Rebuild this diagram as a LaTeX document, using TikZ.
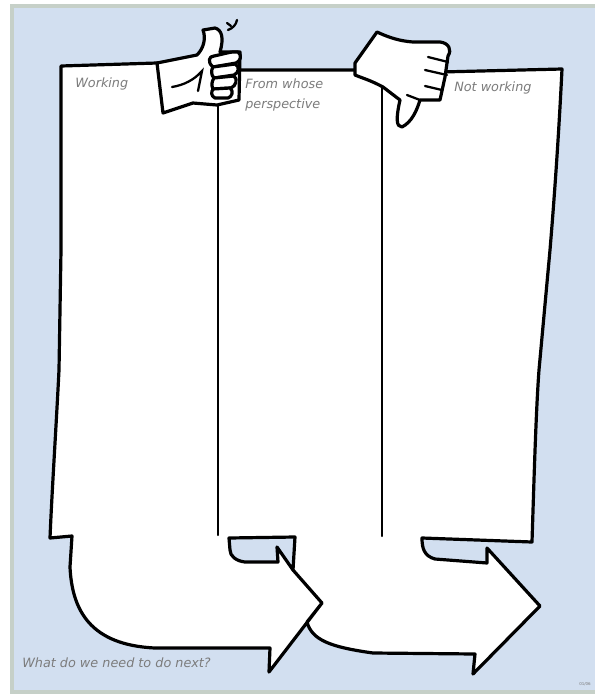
\documentclass[tikz,border=0pt]{standalone}
\usepackage{fontspec}
\setmainfont{DejaVu Sans}
\definecolor{sheetblue}{HTML}{D2DFF0}
\definecolor{framegray}{HTML}{C6D0C8}
\definecolor{notegray}{HTML}{7C7C7C}
\tikzset{
  ink/.style={line width=2.4pt, line join=round, line cap=round},
  inkthin/.style={line width=1.7pt, line cap=round},
  note/.style={text=notegray, font=\itshape\fontsize{9.6}{11}\selectfont, inner sep=0pt, anchor=west},
}
\begin{document}
\begin{tikzpicture}[x=0.75pt, y=-0.75pt]
\useasboundingbox (0,0) rectangle (595,694);
\draw[framegray, line width=3pt, fill=sheetblue] (12,6)--(600,6)--(600,692)--(12,692)--cycle;

% the sheet with both arrows
\draw[ink, fill=white] (322,603)--(307,622) .. controls (312,640) and (330,647) .. (373,653)
  --(475,654)--(473,674)--(540,606)--(487,548)--(487,563)--(435,559)
  .. controls (424,556) and (422,548) .. (422,538)--(532,542)
  .. controls (534,480) and (536,410) .. (539,370)--(550,250)
  .. controls (555,190) and (559,130) .. (562,69)
  --(440,72)--(355,70)--(240,70)--(157,63)--(61,66)
  .. controls (61,130) and (61,200) .. (61,250)--(59,370)
  .. controls (56,430) and (52,490) .. (50,538)--(72,536)--(70,567)
  .. controls (72,610) and (90,645) .. (155,648)
  --(270,648)--(269,672)--cycle;

% notch between the columns and the first arrow
\draw[ink, fill=sheetblue] (229,538)--(295,537)--(293,570)--(277,547)--(278,562)--(245,562)
  .. controls (236,561) and (230,556) .. (230,550)--cycle;
\draw[ink] (293,570)--(322,603);

% columns
\draw[inkthin] (218,100)--(218,535);
\draw[inkthin] (382,70)--(382,536);

% thumb up
\draw[ink, fill=white] (157,63)--(197,55) .. controls (204,48) and (206,38) .. (203,30)
  --(215,28) .. controls (222,30) and (224,38) .. (220,52)--(240,52)
  --(239,100)--(217,105)--(193,103)--(163,113)--cycle;
\draw[ink, fill=white] (213,67) .. controls (207,62) and (209,56) .. (214,56)
  .. controls (224,54) and (232,51) .. (238,52) .. controls (242,55) and (241,61) .. (236,63)--cycle;
\draw[ink, fill=white] (213,67)--(235,64) .. controls (240,66) and (239,73) .. (234,75)--(214,78)
  .. controls (211,75) and (211,70) .. (213,67)--cycle;
\draw[ink, fill=white] (214,78)--(234,76) .. controls (238,79) and (236,86) .. (231,88)--(213,89)
  .. controls (211,85) and (212,81) .. (214,78)--cycle;
\draw[ink, fill=white] (213,89)--(230,88) .. controls (234,91) and (232,97) .. (228,98)--(215,98)
  .. controls (211,96) and (211,92) .. (213,89)--cycle;
\draw[inkthin] (172,87) .. controls (184,85) and (194,80) .. (202,71)--(198,91);
\draw[inkthin] (227,23)--(231,26);
\draw[inkthin] (237,20) .. controls (236,25) and (233,28) .. (228,30);

% thumb down
\draw[ink, fill=white] (377,32) .. controls (390,38) and (400,41) .. (413,42)
  --(440,42) .. controls (449,43) and (452,50) .. (448,56)--(445,77)--(440,100)
  --(420,100) .. controls (417,110) and (412,122) .. (402,127)
  .. controls (396,127) and (396,118) .. (400,100)--(383,87)
  .. controls (370,80) and (362,78) .. (355,75)--(355,63)--cycle;
\draw[inkthin] (428,57)--(448,62);
\draw[inkthin] (425,70)--(447,75);
\draw[inkthin] (425,86)--(442,90);
\draw[inkthin] (407,95)--(420,100);

\node[note] (working) at (75,84) {Working};
\node[note] (whose) at (245,84) {From whose};
\node[note] (view) at (245,105) {perspective};
\node[note] (notworking) at (454,88) {Not working};
\node[note] (next) at (22,663) {What do we need to do next?};
\node[note, font=\fontsize{3}{4}\selectfont] (stamp) at (579,684) {01/06};
\end{tikzpicture}
\end{document}
